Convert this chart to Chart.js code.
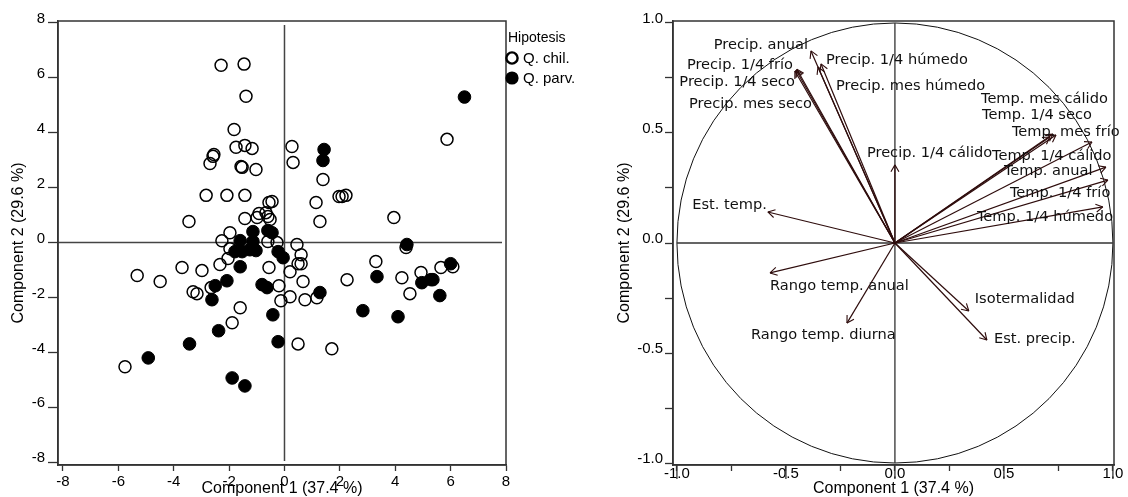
<!DOCTYPE html>
<html>
<head>
<meta charset="utf-8">
<script src="https://cdn.jsdelivr.net/npm/chart.js@4/dist/chart.umd.min.js"></script>
<style>
  html, body { margin: 0; padding: 0; background: #fff; }
  #wrap { position: relative; width: 1128px; height: 497px; }
  #scores { position: absolute; left: 0; top: 0; }
  #loadings { position: absolute; left: 600px; top: 0; }
</style>
</head>
<body>
<div id="wrap">
  <canvas id="scores" width="600" height="497" style="width:600px;height:497px"></canvas>
  <canvas id="loadings" width="528" height="497" style="width:528px;height:497px"></canvas>
</div>
<script>
// PCA scores, Q. chilensis
const chilX = [-2.29, -1.46, -1.39, -1.82, -1.75, -1.43, -1.17, -2.69, -2.58, -2.55, -1.57, -1.53, -1.03, -2.83, -2.08, -1.43, -0.56, -0.45, -3.45, -1.43, -0.99, -0.92, -0.67, -0.60, -0.52, 0.27, 0.31, 1.39, 1.14, 1.97, 2.08, 2.22, 1.28, 3.95, 5.87, 4.39, 0.45, 0.60, 0.49, 0.60, 0.20, 0.67, 0.20, -0.13, -0.20, 0.74, 1.17, 2.26, 3.30, 4.24, 4.53, 4.93, 5.65, 6.08, 0.49, 1.71, -0.56, -1.97, -2.26, -0.60, -0.27, -1.97, -2.04, -2.33, -3.70, -2.98, -4.49, -5.32, -3.30, -3.16, -2.65, -1.60, -1.89, -5.76];
const chilY = [6.46, 6.50, 5.33, 4.12, 3.47, 3.54, 3.43, 2.88, 3.14, 3.21, 2.77, 2.74, 2.66, 1.72, 1.72, 1.72, 1.46, 1.50, 0.77, 0.88, 0.91, 1.06, 1.09, 0.95, 0.84, 3.50, 2.92, 2.30, 1.46, 1.68, 1.68, 1.72, 0.77, 0.91, 3.76, -0.18, -0.07, -0.44, -0.77, -0.77, -1.06, -1.42, -1.97, -2.12, -1.57, -2.08, -2.01, -1.35, -0.69, -1.28, -1.86, -1.09, -0.91, -0.88, -3.69, -3.87, -0.91, 0.36, 0.07, 0.04, 0.00, -0.22, -0.58, -0.80, -0.91, -1.02, -1.42, -1.20, -1.79, -1.86, -1.64, -2.37, -2.92, -4.52];

// PCA scores, Q. parviflora
const parvX = [1.43, 1.39, 6.50, 4.42, 1.28, 3.34, 2.83, 4.10, 4.96, 5.29, 5.36, 5.61, 6.00, -0.23, -0.42, -0.23, -0.05, -1.14, -0.60, -0.45, -1.60, -1.14, -1.79, -1.53, -1.25, -1.03, -1.60, -0.81, -0.63, -2.50, -2.08, -2.62, -2.38, -3.43, -4.92, -1.89, -1.43];
const parvY = [3.39, 2.99, 5.30, -0.07, -1.82, -1.24, -2.48, -2.70, -1.46, -1.35, -1.35, -1.93, -0.77, -3.61, -2.63, -0.33, -0.55, 0.40, 0.44, 0.36, 0.07, 0.04, -0.33, -0.33, -0.26, -0.29, -0.88, -1.53, -1.64, -1.57, -1.39, -2.08, -3.21, -3.69, -4.20, -4.93, -5.22];

// variable loadings (correlation circle)
const varNames = ['Precip. anual', 'Precip. 1/4 húmedo', 'Precip. mes húmedo', 'Precip. 1/4 frío', 'Precip. 1/4 seco', 'Precip. mes seco', 'Precip. 1/4 cálido',
  'Temp. mes cálido', 'Temp. 1/4 seco', 'Temp. mes frío', 'Temp. 1/4 cálido', 'Temp. anual', 'Temp. 1/4 frío', 'Temp. 1/4 húmedo',
  'Est. temp.', 'Rango temp. anual', 'Rango temp. diurna', 'Isotermalidad', 'Est. precip.'];
const loadX = [-0.385, -0.339, -0.353, -0.454, -0.450, -0.459, 0.000, 0.725, 0.739, 0.711, 0.904, 0.968, 0.977, 0.954, -0.583, -0.573, -0.220, 0.339, 0.422];
const loadY = [0.873, 0.814, 0.800, 0.786, 0.790, 0.782, 0.355, 0.495, 0.491, 0.482, 0.459, 0.345, 0.286, 0.164, 0.141, -0.136, -0.364, -0.309, -0.441];

const groupNames = ['Q. chil.', 'Q. parv.'];
const xTitle = 'Component 1 (37.4 %)';
const yTitle = 'Component 2 (29.6 %)';

// label placement next to each arrow tip: [dx px, dy px, align]
const labelPlacement = [
  [-3, -6, 'right'], [5, -4, 'left'], [18, 19, 'left'], [-3, -5, 'right'], [-2, 13, 'right'], [17, 33, 'right'], [-28, -12, 'left'],
  [-72, -35, 'left'], [-74, -20, 'left'], [-38, -5, 'left'], [-100, 14, 'left'], [-102, 4, 'left'], [-98, 13, 'left'], [-126, 10, 'left'],
  [-1, -7, 'right'], [0, 13, 'left'], [-96, 12, 'left'], [6, -12, 'left'], [7, -1, 'left']
];

const tickFont = { family: 'Liberation Sans', size: 15 };
const titleFont = { family: 'Liberation Sans', size: 16 };
const frameColor = '#333';
const arrowColor = '#2e0c0c';

function toPoints (xs, ys) {
  return xs.map((x, i) => ({ x, y: ys[i] }));
}

function isMajor (v) {
  return Math.abs(v * 2 - Math.round(v * 2)) < 1e-6;
}

function majorLabel (v) {
  return isMajor(v) ? v.toFixed(1) : '';
}

const scoresDecor = {
  id: 'scoresDecor',
  beforeDatasetsDraw (chart) {
    const { ctx, chartArea: a, scales: { x, y } } = chart;
    const x0 = x.getPixelForValue(0);
    const y0 = y.getPixelForValue(0);
    ctx.save();
    ctx.strokeStyle = '#444';
    ctx.lineWidth = 1.5;
    ctx.beginPath();
    ctx.moveTo(x0, a.top + 4);
    ctx.lineTo(x0, a.bottom - 4);
    ctx.moveTo(a.left, y0);
    ctx.lineTo(a.right - 4, y0);
    ctx.stroke();
    ctx.restore();
  },
  afterDraw (chart) {
    const { ctx, chartArea: a } = chart;
    ctx.save();
    ctx.strokeStyle = frameColor;
    ctx.lineWidth = 1.5;
    ctx.strokeRect(a.left, a.top, a.right - a.left, a.bottom - a.top);

    // legend
    const lx = a.right + 6;
    ctx.fillStyle = '#000';
    ctx.textBaseline = 'middle';
    ctx.textAlign = 'left';
    ctx.font = '14px "Liberation Sans"';
    ctx.fillText('Hipotesis', a.right + 2, 38);
    ctx.font = '15px "Liberation Sans"';
    ctx.lineWidth = 2.4;
    ctx.strokeStyle = '#000';
    ctx.beginPath();
    ctx.arc(lx, 58, 5.6, 0, 2 * Math.PI);
    ctx.stroke();
    ctx.fillText(groupNames[0], lx + 11, 59);
    ctx.beginPath();
    ctx.arc(lx, 78, 6.6, 0, 2 * Math.PI);
    ctx.fill();
    ctx.fillText(groupNames[1], lx + 11, 79);
    ctx.restore();
  }
};

const loadingsDecor = {
  id: 'loadingsDecor',
  beforeDatasetsDraw (chart) {
    const { ctx, scales: { x, y } } = chart;
    const cx = x.getPixelForValue(0);
    const cy = y.getPixelForValue(0);
    const rx = x.getPixelForValue(1) - cx;
    const ry = cy - y.getPixelForValue(1);
    ctx.save();
    ctx.strokeStyle = '#111';
    ctx.lineWidth = 1;
    ctx.beginPath();
    ctx.ellipse(cx, cy, rx, ry, 0, 0, 2 * Math.PI);
    ctx.stroke();
    ctx.strokeStyle = '#333';
    ctx.lineWidth = 1.3;
    ctx.beginPath();
    ctx.moveTo(x.getPixelForValue(-1), cy);
    ctx.lineTo(x.getPixelForValue(1), cy);
    ctx.moveTo(cx, y.getPixelForValue(1));
    ctx.lineTo(cx, y.getPixelForValue(-1));
    ctx.stroke();
    ctx.restore();
  },
  afterDatasetsDraw (chart) {
    const { ctx, chartArea: a, scales: { x, y } } = chart;
    const cx = x.getPixelForValue(0);
    const cy = y.getPixelForValue(0);
    ctx.save();
    ctx.strokeStyle = arrowColor;
    ctx.lineWidth = 1.1;
    loadX.forEach((lxv, i) => {
      const tx = x.getPixelForValue(lxv);
      const ty = y.getPixelForValue(loadY[i]);
      const ang = Math.atan2(ty - cy, tx - cx);
      ctx.beginPath();
      [Math.PI / 6, -Math.PI / 6].forEach(d => {
        ctx.moveTo(tx, ty);
        ctx.lineTo(tx - 8 * Math.cos(ang + d), ty - 8 * Math.sin(ang + d));
      });
      ctx.stroke();
    });
    ctx.fillStyle = '#111';
    ctx.font = '14.6px "DejaVu Sans"';
    ctx.textBaseline = 'middle';
    varNames.forEach((name, i) => {
      const [dx, dy, align] = labelPlacement[i];
      ctx.textAlign = align;
      ctx.fillText(name, x.getPixelForValue(loadX[i]) + dx, y.getPixelForValue(loadY[i]) + dy);
    });
    ctx.strokeStyle = frameColor;
    ctx.lineWidth = 1.5;
    ctx.strokeRect(a.left, a.top, a.right - a.left, a.bottom - a.top);
    // long major tick marks running over the x labels
    ctx.lineWidth = 1.3;
    ctx.beginPath();
    x.ticks.filter(t => isMajor(t.value)).forEach(t => {
      const px = x.getPixelForValue(t.value);
      ctx.moveTo(px, a.bottom);
      ctx.lineTo(px, a.bottom + 14);
    });
    ctx.stroke();
    ctx.restore();
  }
};

function axis (opts) {
  return {
    type: 'linear',
    min: opts.min,
    max: opts.max,
    ticks: {
      stepSize: opts.step,
      includeBounds: false,
      autoSkip: false,
      maxRotation: 0,
      font: tickFont,
      color: '#000',
      padding: opts.pad,
      labelOffset: opts.labelOffset || 0,
      callback: opts.fmt
    },
    grid: { drawOnChartArea: false, tickLength: opts.tick, color: frameColor, tickWidth: 1.3 },
    border: { color: frameColor, width: 1.5 },
    title: { display: true, text: opts.title, font: titleFont, color: '#000', padding: opts.titlePad },
    afterFit: opts.fit
  };
}

// eslint-disable-next-line no-undef
const scoresChart = new Chart('scores', {
  type: 'scatter',
  data: {
    datasets: [
      { label: groupNames[1], data: toPoints(parvX, parvY), pointRadius: 6.3, backgroundColor: '#000', borderColor: '#000', borderWidth: 1 },
      { label: groupNames[0], data: toPoints(chilX, chilY), pointRadius: 6, backgroundColor: 'rgba(0,0,0,0)', borderColor: '#000', borderWidth: 1.5 }
    ]
  },
  options: {
    responsive: false,
    animation: false,
    events: [],
    layout: { padding: { top: 21, right: 94, left: 0, bottom: 0 } },
    plugins: { legend: { display: false }, tooltip: { enabled: false } },
    scales: {
      x: axis({ min: -8.18, max: 8, step: 2, pad: 2, tick: 6, title: xTitle, titlePad: { top: 0, bottom: -1 }, fmt: v => String(v), fit: s => { s.height = 32; } }),
      y: axis({ min: -8.1, max: 8.07, step: 2, pad: 3, tick: 10, labelOffset: -4, title: yTitle, titlePad: { top: 9, bottom: 0 }, fmt: v => String(v), fit: s => { s.width = 58; } })
    }
  },
  plugins: [scoresDecor]
});

// eslint-disable-next-line no-undef
const loadingsChart = new Chart('loadings', {
  type: 'scatter',
  data: {
    datasets: varNames.map((name, i) => ({
      label: name,
      data: [{ x: 0, y: 0 }, { x: loadX[i], y: loadY[i] }],
      showLine: true,
      pointRadius: 0,
      borderColor: arrowColor,
      borderWidth: 1.2
    }))
  },
  options: {
    responsive: false,
    animation: false,
    events: [],
    layout: { padding: { top: 21, right: 14, left: 0, bottom: 0 } },
    plugins: { legend: { display: false }, tooltip: { enabled: false } },
    scales: {
      x: axis({ min: -1.018, max: 1.005, step: 0.25, pad: -6, tick: 6, title: xTitle, titlePad: { top: 0, bottom: -1 }, fmt: majorLabel, fit: s => { s.height = 32; } }),
      y: axis({ min: -1.009, max: 1.009, step: 0.25, pad: 2, tick: 8, labelOffset: -4, title: yTitle, titlePad: { top: 15, bottom: 0 }, fmt: majorLabel, fit: s => { s.width = 73; } })
    }
  },
  plugins: [loadingsDecor]
});
</script>
</body>
</html>
